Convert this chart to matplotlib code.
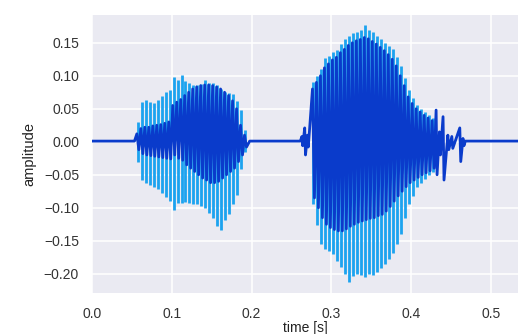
import numpy as np
import matplotlib
matplotlib.use("Agg")
import matplotlib.pyplot as plt

period = 0.005
baseline = 0.001
t_end = 0.534

# first vowel, starting at 0.056 s
vowel1_start = 0.056
vowel1_top = [0.030, 0.060, 0.064, 0.060, 0.059, 0.064, 0.070, 0.076, 0.079, 0.098,
              0.094, 0.101, 0.092, 0.089, 0.086, 0.086, 0.087, 0.094, 0.089, 0.089,
              0.086, 0.080, 0.076, 0.074, 0.072, 0.062, 0.048, 0.018]
vowel1_bot = [-0.030, -0.058, -0.062, -0.066, -0.068, -0.072, -0.077, -0.083, -0.090, -0.103,
              -0.093, -0.093, -0.092, -0.093, -0.094, -0.095, -0.097, -0.100, -0.108, -0.115,
              -0.128, -0.133, -0.118, -0.110, -0.095, -0.080, -0.042, -0.015]
# the denser inner part of the first vowel (dark)
vowel1_core_top = [0.012, 0.020, 0.022, 0.022, 0.024, 0.025, 0.026, 0.028, 0.030, 0.055,
                   0.060, 0.064, 0.070, 0.075, 0.080, 0.083, 0.085, 0.086, 0.086, 0.085,
                   0.083, 0.080, 0.075, 0.070, 0.062, 0.050, 0.025, 0.010]
vowel1_core_bot = [-0.012, -0.018, -0.020, -0.021, -0.022, -0.023, -0.024, -0.025, -0.026, -0.020,
                   -0.025, -0.028, -0.035, -0.040, -0.045, -0.050, -0.055, -0.058, -0.062, -0.062,
                   -0.060, -0.055, -0.050, -0.045, -0.040, -0.030, -0.020, -0.008]

# second vowel, starting at 0.276 s
vowel2_start = 0.27625
vowel2_top = [0.090, 0.100, 0.110, 0.127, 0.130, 0.136, 0.139, 0.148, 0.155, 0.160,
              0.165, 0.166, 0.170, 0.177, 0.170, 0.166, 0.160, 0.155, 0.150, 0.145,
              0.140, 0.128, 0.115, 0.097, 0.078, 0.066, 0.056, 0.050, 0.045, 0.040, 0.036]
vowel2_bot = [-0.095, -0.126, -0.155, -0.162, -0.166, -0.170, -0.180, -0.190, -0.200, -0.212,
              -0.203, -0.200, -0.202, -0.205, -0.200, -0.202, -0.198, -0.192, -0.185, -0.178,
              -0.168, -0.155, -0.140, -0.115, -0.095, -0.082, -0.068, -0.062, -0.056, -0.050, -0.046]
vowel2_core_top = [0.080, 0.090, 0.100, 0.112, 0.118, 0.124, 0.128, 0.135, 0.140, 0.146,
                   0.150, 0.153, 0.155, 0.158, 0.156, 0.152, 0.148, 0.143, 0.138, 0.132,
                   0.125, 0.115, 0.100, 0.085, 0.068, 0.058, 0.050, 0.045, 0.040, 0.036, 0.032]
vowel2_core_bot = [-0.085, -0.100, -0.115, -0.125, -0.130, -0.133, -0.135, -0.135, -0.132, -0.128,
                   -0.125, -0.122, -0.120, -0.118, -0.116, -0.115, -0.112, -0.110, -0.105, -0.098,
                   -0.090, -0.082, -0.075, -0.068, -0.062, -0.058, -0.054, -0.050, -0.047, -0.044, -0.040]

# isolated clicks around the second vowel
click1_t = [0.263, 0.2665, 0.270]
click1_top = [0.008, 0.021, 0.010]
click1_bot = [-0.006, -0.020, -0.008]
click2_t = [0.4313, 0.4355, 0.4400, 0.4460, 0.4510, 0.4610, 0.4650]
click2_top = [0.048, 0.015, 0.038, 0.010, 0.008, 0.021, 0.005]
click2_bot = [-0.050, -0.020, -0.058, -0.012, -0.010, -0.030, -0.006]

light = '#1ca3ef'
dark = '#0a3bcb'


def pulse_times(start, n):
    return start + period * np.arange(n)


def zigzag(t, top, bot, shift):
    t = np.asarray(t)
    tt = np.column_stack([t, t + shift]).ravel()
    yy = np.column_stack([top, bot]).ravel()
    return tt, yy


plt.rcParams['font.family'] = ['Liberation Sans', 'DejaVu Sans']
plt.rcParams['axes.unicode_minus'] = True

fig = plt.figure(figsize=(5.18, 3.34), dpi=100)
ax = fig.add_axes([0.178, 0.123, 0.822, 0.832])
ax.set_facecolor('#eaeaf2')
for s in ax.spines.values():
    s.set_visible(False)
ax.grid(True, color='white', linewidth=1.1)
ax.set_axisbelow(True)

# outer pitch pulses (light)
t1 = pulse_times(vowel1_start, len(vowel1_top))
t2 = pulse_times(vowel2_start, len(vowel2_top))
ax.vlines(t1 + 0.001, vowel1_bot, vowel1_top, color=light, linewidth=2.0, zorder=2)
ax.vlines(t2 + 0.001, vowel2_bot, vowel2_top, color=light, linewidth=2.0, zorder=2)

# dense waveform (dark), one continuous line
a_t, a_y = zigzag(t1, vowel1_core_top, vowel1_core_bot, period / 2)
b_t, b_y = zigzag(click1_t, click1_top, click1_bot, 0.001)
c_t, c_y = zigzag(t2, vowel2_core_top, vowel2_core_bot, period / 2)
d_t, d_y = zigzag(click2_t, click2_top, click2_bot, 0.0012)
wave_t = np.concatenate([[0.0, vowel1_start - 0.003], a_t, [a_t[-1] + 0.004, click1_t[0] - 0.002],
                         b_t, c_t, d_t, [click2_t[-1] + 0.003, t_end]])
wave_y = np.concatenate([[baseline, baseline], a_y, [baseline, baseline],
                         b_y, c_y, d_y, [baseline, baseline]])
ax.plot(wave_t, wave_y, color=dark, linewidth=2.0, zorder=3)

ax.set_xlim(0, t_end)
ax.set_ylim(-0.229, 0.192)
ax.set_xticks([0.0, 0.1, 0.2, 0.3, 0.4, 0.5])
ax.set_yticks([-0.20, -0.15, -0.10, -0.05, 0.00, 0.05, 0.10, 0.15])
ax.tick_params(length=0, labelsize=10, labelcolor='#333333')
ax.tick_params(axis='x', pad=10)
ax.tick_params(axis='y', pad=9.5)
ax.set_xlabel('time [s]', fontsize=10, color='#222222', labelpad=0)
ax.set_ylabel('amplitude', fontsize=10.5, color='#222222', labelpad=5)

fig.savefig('out.png', dpi=100)
